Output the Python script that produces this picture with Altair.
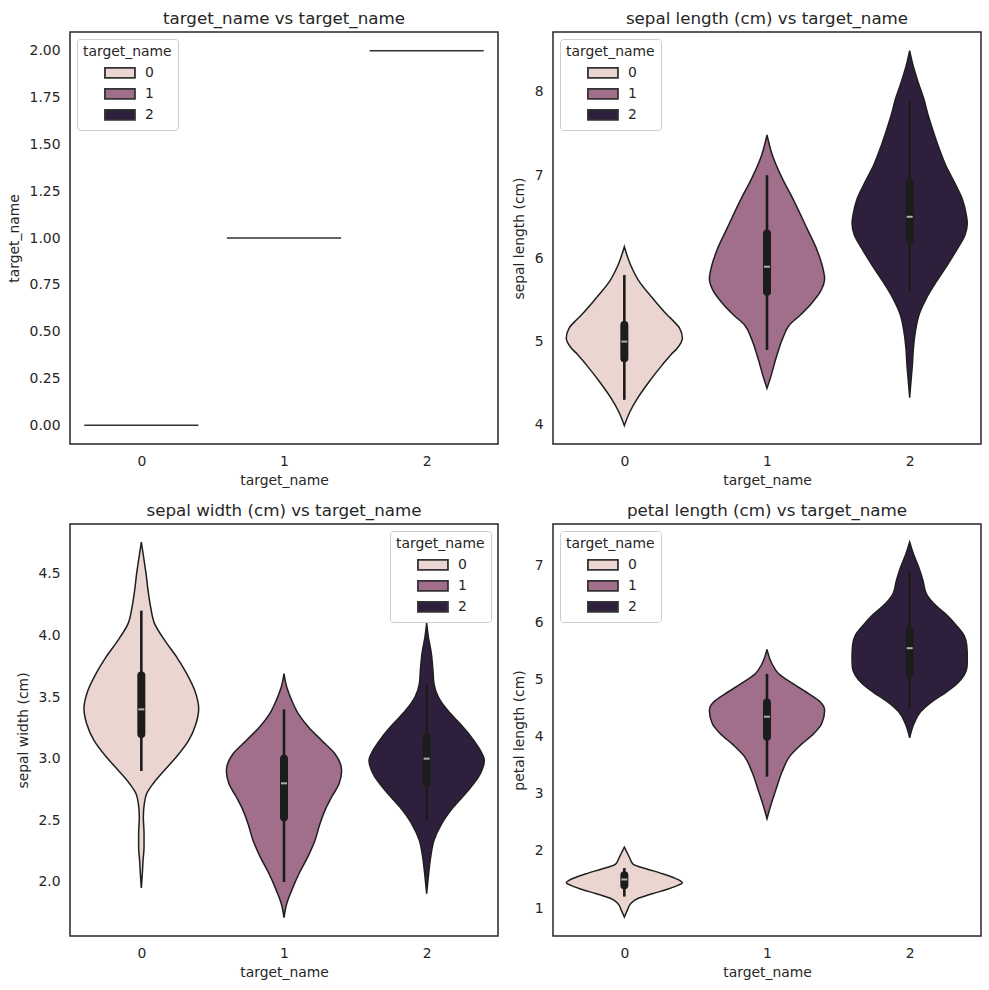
import altair as alt
import pandas as pd

# ---------------------------------------------------------------------------
# Data: iris measurements summarised per class (target_name 0, 1, 2).
# Each violin is given as an outline: measurement levels and the half-width
# of the kernel density (in category units) at each level.
# ---------------------------------------------------------------------------
CATS = ["0", "1", "2"]
COLORS = ["#ead5d1", "#a16e8c", "#2e1f3c"]

# target_name vs target_name: every class collapses onto a single value
tn_value = [0, 1, 2]
tn_half = [0.4, 0.4, 0.4]

# sepal length (cm)
sl_lv0 = [6.14, 5.92, 5.72, 5.52, 5.32, 5.24, 5.16, 5.04, 4.92, 4.84, 4.72, 4.52, 4.32, 4.16, 3.99]
sl_hw0 = [0, .044, .105, .199, .301, .348, .388, .407, .371, .325, .266, .175, .093, .040, 0]
sl_lv1 = [7.483, 7.243, 6.962, 6.722, 6.361, 6.081, 5.840, 5.760, 5.600, 5.480, 5.320, 5.199, 5.039, 4.799, 4.558, 4.438]
sl_hw1 = [0, .037, .107, .180, .280, .355, .397, .404, .374, .322, .234, .157, .110, .063, .023, 0]
sl_lv2 = [8.497, 8.324, 8.124, 7.924, 7.723, 7.523, 7.323, 7.122, 6.922, 6.722, 6.521, 6.421,
          6.281, 6.121, 5.920, 5.720, 5.520, 5.320, 5.119, 4.919, 4.719, 4.518, 4.326]
sl_hw2 = [0, .023, .058, .098, .129, .166, .206, .252, .311, .367, .397, .404,
          .388, .336, .264, .187, .117, .065, .040, .026, .019, .009, 0]

# sepal width (cm)
sw_lv0 = [4.757, 4.635, 4.500, 4.365, 4.230, 4.095, 3.959, 3.824, 3.689, 3.554, 3.405, 3.283,
          3.148, 3.013, 2.905, 2.797, 2.716, 2.635, 2.527, 2.391, 2.283, 2.175, 2.067, 1.951]
sw_hw0 = [0, .016, .033, .047, .065, .093, .164, .248, .318, .374, .402, .383,
          .332, .245, .161, .082, .037, .021, .014, .019, .019, .012, .007, 0]
sw_lv1 = [3.689, 3.581, 3.473, 3.365, 3.257, 3.148, 3.040, 2.905, 2.797, 2.689, 2.581, 2.472,
          2.337, 2.202, 2.067, 1.932, 1.823, 1.710]
sw_hw1 = [0, .019, .054, .100, .171, .264, .357, .404, .386, .334, .287, .252,
          .217, .166, .105, .054, .019, 0]
sw_lv2 = [4.100, 3.986, 3.851, 3.716, 3.608, 3.500, 3.392, 3.283, 3.175, 3.067, 2.986, 2.878,
          2.743, 2.607, 2.472, 2.337, 2.202, 2.067, 1.905]
sw_hw2 = [0, .012, .033, .044, .051, .082, .147, .234, .313, .376, .404, .376,
          .292, .187, .105, .051, .028, .014, 0]

# petal length (cm)
pl_lv0 = [2.067, 1.951, 1.863, 1.764, 1.688, 1.600, 1.530, 1.484, 1.443, 1.396, 1.338, 1.250,
          1.163, 1.075, 0.958, 0.842]
pl_hw0 = [0, .023, .040, .063, .152, .269, .348, .388, .407, .374, .313, .196,
          .091, .044, .021, 0]
pl_lv1 = [5.529, 5.278, 5.103, 4.928, 4.753, 4.607, 4.461, 4.227, 4.052, 3.865, 3.655, 3.381,
          3.060, 2.768, 2.564]
pl_hw1 = [0, .035, .082, .182, .292, .374, .404, .383, .327, .241, .159, .105, .061, .023, 0]
pl_lv2 = [7.409, 7.205, 6.971, 6.738, 6.504, 6.300, 6.125, 5.949, 5.774, 5.599, 5.395, 5.220,
          5.074, 4.928, 4.782, 4.607, 4.432, 4.227, 3.982]
pl_hw2 = [0, .026, .063, .093, .117, .182, .262, .327, .381, .400, .404, .402,
          .381, .332, .257, .152, .075, .030, 0]

# inner box statistics per class: whisker low, Q1, median, Q3, whisker high
sl_box = {"lo": [4.3, 4.9, 5.6], "q1": [4.8, 5.6, 6.225], "med": [5.0, 5.9, 6.5],
          "q3": [5.2, 6.3, 6.9], "hi": [5.8, 7.0, 7.9]}
sw_box = {"lo": [2.9, 2.0, 2.5], "q1": [3.2, 2.525, 2.8], "med": [3.4, 2.8, 3.0],
          "q3": [3.675, 3.0, 3.175], "hi": [4.2, 3.4, 3.6]}
pl_box = {"lo": [1.2, 3.3, 4.5], "q1": [1.4, 4.0, 5.1], "med": [1.5, 4.35, 5.55],
          "q3": [1.575, 4.6, 5.875], "hi": [1.7, 5.1, 6.9]}

# ---------------------------------------------------------------------------
TEXT = "#262626"
EDGE = "#1f1f1f"
INNER = "#1c1c1c"
FONT = "DejaVu Sans"
W, H = 428, 412

# wide flat patch used as the legend swatch (3:1 in path units)
SWATCH = "M-3,-1L3,-1L3,1L-3,1Z"

x_scale = alt.Scale(domain=[-0.5, 2.5], nice=False, zero=False)
x_axis = alt.Axis(values=[0, 1, 2], format="d", title="target_name")
fill_scale = alt.Scale(domain=CATS, range=COLORS)


def legend(orient):
    return alt.Legend(title="target_name", orient=orient)


def violin_frame(levels, halves):
    rows = []
    for pos, (lv, hw) in enumerate(zip(levels, halves)):
        for v, h in zip(lv, hw):
            rows.append({"pos": pos, "target_name": CATS[pos], "value": v, "half": h})
    return pd.DataFrame(rows)


def box_frame(stats):
    df = pd.DataFrame(stats)
    df["pos"] = [0, 1, 2]
    return df


def violin_panel(levels, halves, stats, label, domain, ticks, fmt, legend_orient):
    y_scale = alt.Scale(domain=domain, nice=False, zero=False)
    y_axis = alt.Axis(values=ticks, format=fmt, title=label)

    body = (
        alt.Chart(violin_frame(levels, halves))
        .transform_calculate(left="datum.pos - datum.half", right="datum.pos + datum.half")
        .mark_area(orient="horizontal", interpolate="monotone", stroke=EDGE, strokeWidth=1.5)
        .encode(
            y=alt.Y("value:Q", scale=y_scale, axis=y_axis),
            x=alt.X("left:Q", scale=x_scale, axis=x_axis),
            x2="right:Q",
            fill=alt.Fill("target_name:N", scale=fill_scale, legend=legend(legend_orient)),
            detail="target_name:N",
        )
    )
    boxes = alt.Chart(box_frame(stats))
    whisker = boxes.mark_rule(color=INNER, strokeWidth=2.6).encode(
        x=alt.X("pos:Q", scale=x_scale, axis=x_axis),
        y=alt.Y("lo:Q", scale=y_scale, axis=y_axis),
        y2="hi:Q",
    )
    iqr = boxes.mark_rule(color=INNER, strokeWidth=8, strokeCap="round").encode(
        x=alt.X("pos:Q", scale=x_scale, axis=x_axis),
        y=alt.Y("q1:Q", scale=y_scale, axis=y_axis),
        y2="q3:Q",
    )
    median = boxes.mark_tick(orient="horizontal", size=6, thickness=2, color="#eeeeee").encode(
        x=alt.X("pos:Q", scale=x_scale, axis=x_axis),
        y=alt.Y("med:Q", scale=y_scale, axis=y_axis),
    )
    return alt.layer(body, whisker, iqr, median).properties(
        width=W, height=H, title=f"{label} vs target_name"
    )


# target_name vs target_name: flat violins drawn as zero-height patches
tn_df = pd.DataFrame({"pos": [0, 1, 2], "target_name": CATS, "value": tn_value, "half": tn_half})
tn_y = alt.Scale(domain=[-0.1, 2.1], nice=False, zero=False)
tn_panel = (
    alt.Chart(tn_df)
    .transform_calculate(left="datum.pos - datum.half", right="datum.pos + datum.half")
    .mark_bar(stroke="#333333", strokeWidth=1.5)
    .encode(
        x=alt.X("left:Q", scale=x_scale, axis=x_axis),
        x2="right:Q",
        y=alt.Y("value:Q", scale=tn_y,
                axis=alt.Axis(values=[0, 0.25, 0.5, 0.75, 1, 1.25, 1.5, 1.75, 2],
                              format=".2f", title="target_name")),
        y2="value:Q",
        fill=alt.Fill("target_name:N", scale=fill_scale, legend=legend("top-left")),
    )
    .properties(width=W, height=H, title="target_name vs target_name")
)

sl_panel = violin_panel([sl_lv0, sl_lv1, sl_lv2], [sl_hw0, sl_hw1, sl_hw2], sl_box,
                        "sepal length (cm)", [3.769, 8.721], [4, 5, 6, 7, 8], "d", "top-left")
sw_panel = violin_panel([sw_lv0, sw_lv1, sw_lv2], [sw_hw0, sw_hw1, sw_hw2], sw_box,
                        "sepal width (cm)", [1.562, 4.903], [2.0, 2.5, 3.0, 3.5, 4.0, 4.5], ".1f",
                        "top-right")
pl_panel = violin_panel([pl_lv0, pl_lv1, pl_lv2], [pl_hw0, pl_hw1, pl_hw2], pl_box,
                        "petal length (cm)", [0.510, 7.725], [1, 2, 3, 4, 5, 6, 7], "d", "top-left")

chart = (
    alt.concat(tn_panel, sl_panel, sw_panel, pl_panel, columns=2,
               spacing={"row": 13, "column": 12})
    .resolve_scale(fill="independent", x="independent", y="independent")
    .configure(font=FONT, padding={"left": 6, "top": 10, "right": 5, "bottom": 5})
    .configure_view(stroke=TEXT, strokeWidth=1.5)
    .configure_axis(grid=False, ticks=False, domain=False, labelFontSize=13.9,
                    titleFontSize=13.9, labelColor=TEXT, titleColor=TEXT,
                    titleFontWeight="normal", labelPadding=8, titlePadding=6,
                    labelFont=FONT, titleFont=FONT)
    .configure_axisX(labelPadding=10)
    .configure_axisY(labelPadding=10, titlePadding=7.5)
    .configure_legend(titleFontSize=13.9, labelFontSize=13.9, titleColor=TEXT,
                      labelColor=TEXT, titleFontWeight="normal", titleFont=FONT,
                      labelFont=FONT, symbolType=SWATCH, symbolSize=100,
                      symbolStrokeColor="#333333", symbolStrokeWidth=1.8,
                      symbolOffset=30, labelOffset=18, offset=7, padding=6,
                      titlePadding=7, rowPadding=3, strokeColor="#cccccc",
                      fillColor="white", cornerRadius=3)
    .configure_title(fontSize=16.7, fontWeight="normal", color=TEXT, font=FONT, offset=4)
)

chart.save("out.html", embed_options={"renderer": "svg", "actions": False})
